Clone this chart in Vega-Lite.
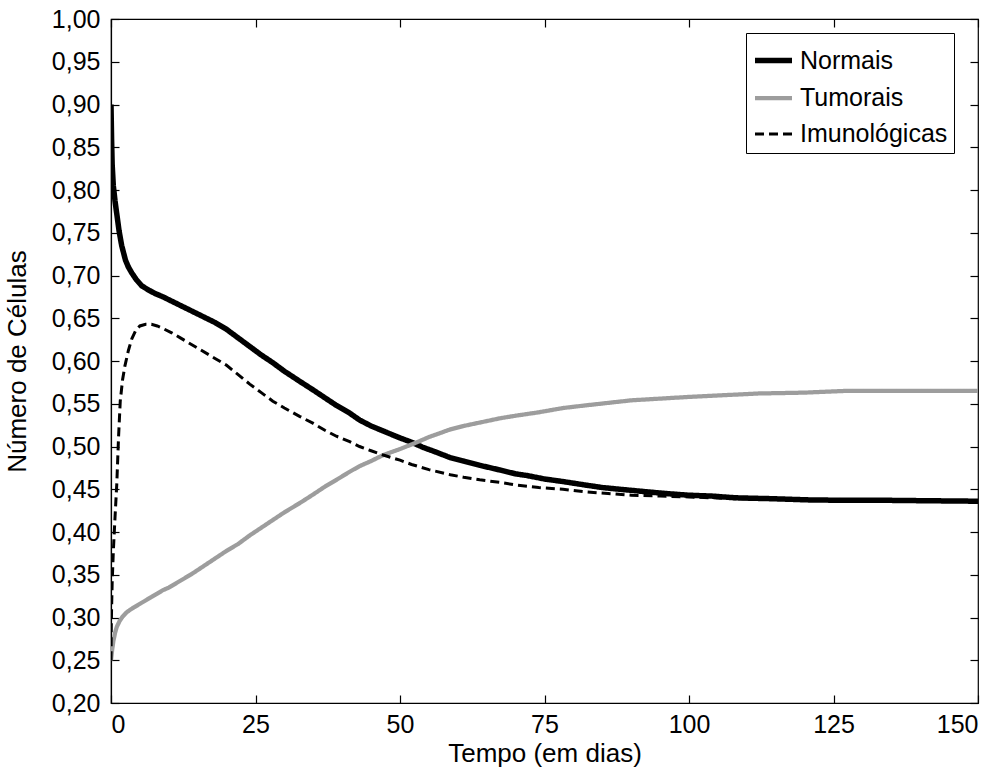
{
  "$schema": "https://vega.github.io/schema/vega-lite/v6.json",
  "width": 867,
  "height": 684,
  "autosize": {"type": "none"},
  "padding": {"left": 111, "top": 19, "right": 26, "bottom": 71},
  "background": "white",
  "config": {
    "view": {"stroke": "black", "strokeWidth": 1.2},
    "font": "Liberation Sans",
    "axis": {
      "grid": false,
      "domainColor": "black",
      "tickColor": "black",
      "labelColor": "black",
      "titleColor": "black",
      "labelFont": "Liberation Sans",
      "titleFont": "Liberation Sans",
      "labelFontSize": 25,
      "titleFontSize": 26,
      "titleFontWeight": "normal",
      "tickSize": -8,
      "tickWidth": 1.2,
      "domainWidth": 1.2
    },
    "legend": {
      "labelFont": "Liberation Sans",
      "labelFontSize": 25,
      "labelColor": "black"
    }
  },
  "datasets": {
    "cells": [
      {"t": 0, "v": 0.90, "s": "Normais"},
      {"t": 0.1, "v": 0.86, "s": "Normais"},
      {"t": 0.2, "v": 0.83, "s": "Normais"},
      {"t": 0.4, "v": 0.805, "s": "Normais"},
      {"t": 0.7, "v": 0.787, "s": "Normais"},
      {"t": 1.0, "v": 0.772, "s": "Normais"},
      {"t": 1.4, "v": 0.752, "s": "Normais"},
      {"t": 1.85, "v": 0.735, "s": "Normais"},
      {"t": 2.5, "v": 0.718, "s": "Normais"},
      {"t": 3.0, "v": 0.71, "s": "Normais"},
      {"t": 3.6, "v": 0.703, "s": "Normais"},
      {"t": 4.4, "v": 0.695, "s": "Normais"},
      {"t": 5.3, "v": 0.688, "s": "Normais"},
      {"t": 6.5, "v": 0.683, "s": "Normais"},
      {"t": 7.6, "v": 0.679, "s": "Normais"},
      {"t": 9, "v": 0.675, "s": "Normais"},
      {"t": 10.5, "v": 0.670, "s": "Normais"},
      {"t": 12, "v": 0.665, "s": "Normais"},
      {"t": 15, "v": 0.655, "s": "Normais"},
      {"t": 18, "v": 0.645, "s": "Normais"},
      {"t": 20, "v": 0.637, "s": "Normais"},
      {"t": 22, "v": 0.627, "s": "Normais"},
      {"t": 24, "v": 0.617, "s": "Normais"},
      {"t": 26, "v": 0.607, "s": "Normais"},
      {"t": 28, "v": 0.598, "s": "Normais"},
      {"t": 30, "v": 0.588, "s": "Normais"},
      {"t": 32.7, "v": 0.576, "s": "Normais"},
      {"t": 35, "v": 0.566, "s": "Normais"},
      {"t": 37, "v": 0.557, "s": "Normais"},
      {"t": 39, "v": 0.548, "s": "Normais"},
      {"t": 41.3, "v": 0.539, "s": "Normais"},
      {"t": 43, "v": 0.531, "s": "Normais"},
      {"t": 45, "v": 0.524, "s": "Normais"},
      {"t": 47.5, "v": 0.517, "s": "Normais"},
      {"t": 50, "v": 0.510, "s": "Normais"},
      {"t": 52, "v": 0.505, "s": "Normais"},
      {"t": 54, "v": 0.499, "s": "Normais"},
      {"t": 56, "v": 0.494, "s": "Normais"},
      {"t": 58.7, "v": 0.487, "s": "Normais"},
      {"t": 61, "v": 0.483, "s": "Normais"},
      {"t": 63.8, "v": 0.478, "s": "Normais"},
      {"t": 67.3, "v": 0.4725, "s": "Normais"},
      {"t": 70, "v": 0.468, "s": "Normais"},
      {"t": 72, "v": 0.466, "s": "Normais"},
      {"t": 75, "v": 0.462, "s": "Normais"},
      {"t": 78.2, "v": 0.459, "s": "Normais"},
      {"t": 82, "v": 0.455, "s": "Normais"},
      {"t": 85, "v": 0.452, "s": "Normais"},
      {"t": 88, "v": 0.450, "s": "Normais"},
      {"t": 92.7, "v": 0.447, "s": "Normais"},
      {"t": 96, "v": 0.445, "s": "Normais"},
      {"t": 100, "v": 0.443, "s": "Normais"},
      {"t": 104, "v": 0.442, "s": "Normais"},
      {"t": 108, "v": 0.440, "s": "Normais"},
      {"t": 114, "v": 0.439, "s": "Normais"},
      {"t": 121, "v": 0.4375, "s": "Normais"},
      {"t": 128, "v": 0.437, "s": "Normais"},
      {"t": 135, "v": 0.437, "s": "Normais"},
      {"t": 142, "v": 0.4365, "s": "Normais"},
      {"t": 150, "v": 0.436, "s": "Normais"},

      {"t": 0, "v": 0.25, "s": "Tumorais"},
      {"t": 0.1, "v": 0.256, "s": "Tumorais"},
      {"t": 0.2, "v": 0.262, "s": "Tumorais"},
      {"t": 0.4, "v": 0.272, "s": "Tumorais"},
      {"t": 0.7, "v": 0.282, "s": "Tumorais"},
      {"t": 1.0, "v": 0.289, "s": "Tumorais"},
      {"t": 1.5, "v": 0.296, "s": "Tumorais"},
      {"t": 2.0, "v": 0.301, "s": "Tumorais"},
      {"t": 2.7, "v": 0.306, "s": "Tumorais"},
      {"t": 3.3, "v": 0.309, "s": "Tumorais"},
      {"t": 4.0, "v": 0.312, "s": "Tumorais"},
      {"t": 5, "v": 0.316, "s": "Tumorais"},
      {"t": 6, "v": 0.320, "s": "Tumorais"},
      {"t": 7, "v": 0.324, "s": "Tumorais"},
      {"t": 8, "v": 0.328, "s": "Tumorais"},
      {"t": 9, "v": 0.332, "s": "Tumorais"},
      {"t": 10, "v": 0.335, "s": "Tumorais"},
      {"t": 12, "v": 0.343, "s": "Tumorais"},
      {"t": 14, "v": 0.351, "s": "Tumorais"},
      {"t": 16, "v": 0.360, "s": "Tumorais"},
      {"t": 18, "v": 0.369, "s": "Tumorais"},
      {"t": 20, "v": 0.378, "s": "Tumorais"},
      {"t": 22, "v": 0.386, "s": "Tumorais"},
      {"t": 24, "v": 0.396, "s": "Tumorais"},
      {"t": 26, "v": 0.405, "s": "Tumorais"},
      {"t": 28, "v": 0.414, "s": "Tumorais"},
      {"t": 30, "v": 0.423, "s": "Tumorais"},
      {"t": 32.7, "v": 0.434, "s": "Tumorais"},
      {"t": 35, "v": 0.444, "s": "Tumorais"},
      {"t": 37, "v": 0.453, "s": "Tumorais"},
      {"t": 39, "v": 0.461, "s": "Tumorais"},
      {"t": 41.3, "v": 0.4705, "s": "Tumorais"},
      {"t": 43, "v": 0.477, "s": "Tumorais"},
      {"t": 45, "v": 0.483, "s": "Tumorais"},
      {"t": 47.1, "v": 0.490, "s": "Tumorais"},
      {"t": 50, "v": 0.497, "s": "Tumorais"},
      {"t": 52.6, "v": 0.504, "s": "Tumorais"},
      {"t": 55, "v": 0.511, "s": "Tumorais"},
      {"t": 58.7, "v": 0.520, "s": "Tumorais"},
      {"t": 61, "v": 0.524, "s": "Tumorais"},
      {"t": 63.8, "v": 0.528, "s": "Tumorais"},
      {"t": 67.3, "v": 0.533, "s": "Tumorais"},
      {"t": 70, "v": 0.536, "s": "Tumorais"},
      {"t": 74, "v": 0.540, "s": "Tumorais"},
      {"t": 78.2, "v": 0.545, "s": "Tumorais"},
      {"t": 82, "v": 0.548, "s": "Tumorais"},
      {"t": 86, "v": 0.551, "s": "Tumorais"},
      {"t": 90, "v": 0.554, "s": "Tumorais"},
      {"t": 95, "v": 0.556, "s": "Tumorais"},
      {"t": 100, "v": 0.558, "s": "Tumorais"},
      {"t": 106, "v": 0.560, "s": "Tumorais"},
      {"t": 112, "v": 0.562, "s": "Tumorais"},
      {"t": 120, "v": 0.563, "s": "Tumorais"},
      {"t": 127, "v": 0.565, "s": "Tumorais"},
      {"t": 140, "v": 0.565, "s": "Tumorais"},
      {"t": 150, "v": 0.565, "s": "Tumorais"},

      {"t": 0, "v": 0.25, "s": "Imunológicas"},
      {"t": 0.05, "v": 0.29, "s": "Imunológicas"},
      {"t": 0.1, "v": 0.31, "s": "Imunológicas"},
      {"t": 0.2, "v": 0.34, "s": "Imunológicas"},
      {"t": 0.4, "v": 0.377, "s": "Imunológicas"},
      {"t": 0.7, "v": 0.418, "s": "Imunológicas"},
      {"t": 1.0, "v": 0.456, "s": "Imunológicas"},
      {"t": 1.3, "v": 0.51, "s": "Imunológicas"},
      {"t": 1.6, "v": 0.553, "s": "Imunológicas"},
      {"t": 2.0, "v": 0.578, "s": "Imunológicas"},
      {"t": 2.4, "v": 0.594, "s": "Imunológicas"},
      {"t": 3.0, "v": 0.612, "s": "Imunológicas"},
      {"t": 3.6, "v": 0.626, "s": "Imunológicas"},
      {"t": 4.3, "v": 0.636, "s": "Imunológicas"},
      {"t": 5, "v": 0.641, "s": "Imunológicas"},
      {"t": 6, "v": 0.643, "s": "Imunológicas"},
      {"t": 7, "v": 0.643, "s": "Imunológicas"},
      {"t": 8, "v": 0.641, "s": "Imunológicas"},
      {"t": 9, "v": 0.638, "s": "Imunológicas"},
      {"t": 10.5, "v": 0.633, "s": "Imunológicas"},
      {"t": 12, "v": 0.627, "s": "Imunológicas"},
      {"t": 15, "v": 0.615, "s": "Imunológicas"},
      {"t": 18, "v": 0.603, "s": "Imunológicas"},
      {"t": 20, "v": 0.595, "s": "Imunológicas"},
      {"t": 22, "v": 0.584, "s": "Imunológicas"},
      {"t": 24, "v": 0.573, "s": "Imunológicas"},
      {"t": 26, "v": 0.563, "s": "Imunológicas"},
      {"t": 28, "v": 0.553, "s": "Imunológicas"},
      {"t": 30, "v": 0.545, "s": "Imunológicas"},
      {"t": 32.7, "v": 0.535, "s": "Imunológicas"},
      {"t": 35, "v": 0.527, "s": "Imunológicas"},
      {"t": 37, "v": 0.519, "s": "Imunológicas"},
      {"t": 39, "v": 0.512, "s": "Imunológicas"},
      {"t": 41.3, "v": 0.5056, "s": "Imunológicas"},
      {"t": 43, "v": 0.500, "s": "Imunológicas"},
      {"t": 45, "v": 0.495, "s": "Imunológicas"},
      {"t": 47.1, "v": 0.490, "s": "Imunológicas"},
      {"t": 50, "v": 0.484, "s": "Imunológicas"},
      {"t": 52, "v": 0.479, "s": "Imunológicas"},
      {"t": 55, "v": 0.473, "s": "Imunológicas"},
      {"t": 58.7, "v": 0.467, "s": "Imunológicas"},
      {"t": 61, "v": 0.464, "s": "Imunológicas"},
      {"t": 63.8, "v": 0.461, "s": "Imunológicas"},
      {"t": 67.3, "v": 0.458, "s": "Imunológicas"},
      {"t": 70, "v": 0.455, "s": "Imunológicas"},
      {"t": 74, "v": 0.452, "s": "Imunológicas"},
      {"t": 78.2, "v": 0.450, "s": "Imunológicas"},
      {"t": 82, "v": 0.447, "s": "Imunológicas"},
      {"t": 86, "v": 0.445, "s": "Imunológicas"},
      {"t": 90, "v": 0.443, "s": "Imunológicas"},
      {"t": 95, "v": 0.442, "s": "Imunológicas"},
      {"t": 100, "v": 0.441, "s": "Imunológicas"},
      {"t": 108, "v": 0.439, "s": "Imunológicas"},
      {"t": 118, "v": 0.438, "s": "Imunológicas"},
      {"t": 130, "v": 0.437, "s": "Imunológicas"},
      {"t": 140, "v": 0.4365, "s": "Imunológicas"},
      {"t": 150, "v": 0.436, "s": "Imunológicas"}
    ]
  },
  "data": {"name": "cells"},
  "layer": [
    {
      "mark": {"type": "line", "clip": true},
      "encoding": {
        "x": {
          "field": "t", "type": "quantitative",
          "scale": {"domain": [0, 150], "nice": false, "zero": false},
          "axis": {"values": [0, 25, 50, 75, 100, 125, 150], "title": "Tempo (em dias)", "labelPadding": 17, "titlePadding": 3, "orient": "bottom"}
        },
        "y": {
          "field": "v", "type": "quantitative",
          "scale": {"domain": [0.2, 1.0], "nice": false, "zero": false},
          "axis": {
            "values": [0.2, 0.25, 0.3, 0.35, 0.4, 0.45, 0.5, 0.55, 0.6, 0.65, 0.7, 0.75, 0.8, 0.85, 0.9, 0.95, 1.0],
            "labelExpr": "replace(format(datum.value, '.2f'), '.', ',')",
            "title": "Número de Células", "labelPadding": 19, "titlePadding": 21, "orient": "left"
          }
        },
        "color": {
          "field": "s", "type": "nominal",
          "scale": {"domain": ["Normais", "Tumorais", "Imunológicas"], "range": ["#000000", "#9d9d9d", "#000000"]},
          "legend": {
            "title": null, "orient": "none", "legendX": 635, "legendY": 14,
            "symbolType": "stroke", "symbolSize": 1369, "rowPadding": 3, "padding": 6,
            "labelOffset": 5, "strokeColor": "black", "fillColor": "white", "cornerRadius": 0
          }
        },
        "strokeDash": {
          "field": "s", "type": "nominal",
          "scale": {"domain": ["Normais", "Tumorais", "Imunológicas"], "range": [[1, 0], [1, 0], [9, 5]]},
          "legend": {
            "title": null, "orient": "none", "legendX": 635, "legendY": 14,
            "symbolType": "stroke", "symbolSize": 1369, "rowPadding": 3, "padding": 6,
            "labelOffset": 5, "strokeColor": "black", "fillColor": "white", "cornerRadius": 0
          }
        },
        "strokeWidth": {
          "field": "s", "type": "nominal",
          "scale": {"domain": ["Normais", "Tumorais", "Imunológicas"], "range": [5.5, 3, 4]},
          "legend": {
            "title": null, "orient": "none", "legendX": 635, "legendY": 14,
            "symbolType": "stroke", "symbolSize": 1369, "rowPadding": 3, "padding": 6,
            "labelOffset": 5, "strokeColor": "black", "fillColor": "white", "cornerRadius": 0
          }
        }
      }
    },
    {
      "mark": {"type": "point", "opacity": 0},
      "encoding": {
        "x": {
          "field": "t", "type": "quantitative",
          "axis": {"orient": "top", "values": [0, 25, 50, 75, 100, 125, 150], "labels": false, "title": null, "domain": false}
        },
        "y": {
          "field": "v", "type": "quantitative",
          "axis": {"orient": "right", "values": [0.2, 0.25, 0.3, 0.35, 0.4, 0.45, 0.5, 0.55, 0.6, 0.65, 0.7, 0.75, 0.8, 0.85, 0.9, 0.95, 1.0], "labels": false, "title": null, "domain": false}
        }
      }
    }
  ],
  "resolve": {"axis": {"x": "independent", "y": "independent"}}
}
